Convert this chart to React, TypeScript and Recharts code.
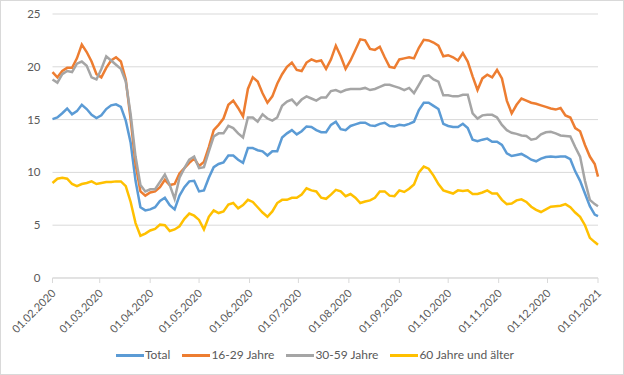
import { LineChart, Line, XAxis, YAxis, CartesianGrid, Legend } from "recharts";

// day index since 01.02.2020, sampled every 3 days
const days = [
  0, 3, 6, 9, 12, 15, 18, 21, 24, 27,
  30, 33, 36, 39, 42, 45, 48, 51, 54, 57,
  60, 63, 66, 69, 72, 75, 78, 81, 84, 87,
  90, 93, 96, 99, 102, 105, 108, 111, 114, 117,
  120, 123, 126, 129, 132, 135, 138, 141, 144, 147,
  150, 153, 156, 159, 162, 165, 168, 171, 174, 177,
  180, 183, 186, 189, 192, 195, 198, 201, 204, 207,
  210, 213, 216, 219, 222, 225, 228, 231, 234, 237,
  240, 243, 246, 249, 252, 255, 258, 261, 264, 267,
  270, 273, 276, 279, 282, 285, 288, 291, 294, 297,
  300, 303, 306, 309, 312, 315, 318, 321, 324, 327,
  330, 333, 335,
];

const total = [
  15.05, 15.2, 15.6, 16.05, 15.5, 15.8, 16.4, 16.0, 15.45, 15.15,
  15.4, 16.0, 16.35, 16.45, 16.2, 14.9, 12.8, 9.2, 6.7, 6.4,
  6.5, 6.7, 7.3, 7.6, 6.9, 6.5, 7.8, 8.6, 9.15, 9.2,
  8.2, 8.3, 9.5, 10.5, 10.8, 10.95, 11.6, 11.6, 11.2, 10.9,
  12.3, 12.3, 12.1, 12.0, 11.6, 12.0, 12.0, 13.3, 13.7, 14.0,
  13.6, 13.9, 14.35, 14.3, 14.0, 13.8, 13.8, 14.5, 14.8, 14.1,
  14.0, 14.4, 14.55, 14.7, 14.7, 14.45, 14.4, 14.6, 14.7, 14.4,
  14.35, 14.5, 14.45, 14.6, 14.8, 15.9, 16.6, 16.6, 16.3, 16.0,
  14.6, 14.4, 14.3, 14.3, 14.6, 14.2, 13.1, 12.95, 13.1, 13.2,
  12.9, 12.9, 12.6, 11.8, 11.55, 11.65, 11.75, 11.5, 11.2, 11.05,
  11.3, 11.45, 11.5, 11.45, 11.5, 11.5, 11.25, 10.1, 9.2, 8.0,
  6.8, 6.0, 5.85,
];

const age16to29 = [
  19.5, 19.0, 19.6, 19.9, 19.9, 20.8, 22.1, 21.4, 20.5, 19.3,
  19.0, 19.9, 20.6, 20.9, 20.5, 18.8, 15.0, 10.8, 8.2, 7.8,
  8.1, 8.2, 8.6, 9.3, 8.8, 8.9, 9.9, 10.4, 10.9, 11.3,
  10.6, 11.0, 12.4, 14.0, 14.5, 15.1, 16.4, 16.8, 16.1, 15.3,
  17.9, 19.0, 18.6, 17.5, 16.6, 17.2, 18.4, 19.3, 20.0, 20.4,
  19.7, 19.6, 20.4, 20.7, 20.5, 20.6, 19.8, 20.7, 22.0, 21.0,
  19.8, 20.6, 21.6, 22.6, 22.5, 21.7, 21.6, 21.9, 20.9, 20.0,
  19.9, 20.7, 20.8, 20.9, 20.8, 21.8, 22.55, 22.5, 22.3, 22.0,
  21.0, 21.1, 20.9, 20.6, 21.3, 20.5, 19.1, 17.8, 18.9, 19.25,
  19.0, 19.7, 18.9, 16.8, 15.6, 16.4, 17.0, 16.8, 16.6, 16.5,
  16.35, 16.2, 16.05, 15.95, 16.1, 15.4, 15.2, 14.2, 13.9, 12.6,
  11.5, 10.8, 9.6,
];

const age30to59 = [
  18.8, 18.5, 19.3, 19.6, 19.5, 20.3, 20.5, 20.1, 19.0, 18.8,
  19.8, 21.0, 20.6, 20.2, 19.8, 18.6, 15.5, 11.5, 8.8, 8.2,
  8.4, 8.4, 9.1, 9.8, 8.8, 7.5, 9.5, 10.4, 11.2, 11.5,
  10.4, 10.5, 12.0, 13.4, 13.7, 13.7, 14.4, 14.2, 13.7, 13.3,
  15.2, 15.2, 14.8, 15.5, 15.1, 14.9, 15.2, 16.3, 16.7, 16.9,
  16.4, 16.9, 17.2, 17.0, 16.8, 17.1, 17.1, 17.7, 17.8, 17.6,
  17.8, 17.9, 17.9, 17.9, 18.0, 17.8, 17.9, 18.1, 18.3, 18.3,
  18.15, 18.0, 17.8, 18.0, 17.5, 18.3, 19.1, 19.2, 18.8, 18.6,
  17.3, 17.3, 17.2, 17.2, 17.35, 17.35, 15.6, 15.1, 15.4, 15.45,
  15.45, 15.2, 14.5, 14.0, 13.75, 13.65, 13.5, 13.45, 13.1, 13.2,
  13.6, 13.8, 13.85, 13.7, 13.5, 13.45, 13.4, 12.4, 11.5, 9.2,
  7.4, 7.0, 6.8,
];

const age60plus = [
  9.0, 9.4, 9.5, 9.4, 8.9, 8.7, 8.9, 9.0, 9.15, 8.9,
  9.0, 9.1, 9.1, 9.15, 9.15, 8.7, 7.2, 5.2, 4.0, 4.2,
  4.5, 4.65, 5.05, 5.0, 4.45, 4.6, 4.9, 5.6, 6.1, 5.9,
  5.5, 4.6, 5.8, 6.4, 6.15, 6.3, 6.95, 7.1, 6.6, 6.9,
  7.4, 7.2, 6.7, 6.2, 5.8, 6.3, 7.1, 7.4, 7.4, 7.6,
  7.6, 7.9, 8.5, 8.3, 8.2, 7.6, 7.5, 7.9, 8.35, 8.2,
  7.75, 7.95, 7.6, 7.1, 7.25, 7.35, 7.6, 8.2, 8.2, 7.8,
  7.75, 8.3, 8.15, 8.45, 8.85, 10.0, 10.55, 10.35, 9.7, 8.9,
  8.3, 8.15, 8.0, 8.3, 8.25, 8.3, 7.95, 7.95, 8.1, 8.3,
  8.0, 8.0, 7.4, 7.0, 7.05, 7.35, 7.45, 7.2, 6.75, 6.45,
  6.25, 6.5, 6.75, 6.8, 6.85, 7.0, 6.7, 6.2, 5.8, 5.0,
  3.8, 3.4, 3.15,
];

const monthTicks = [0, 29, 60, 90, 121, 151, 182, 213, 243, 274, 304, 335];
const monthLabels = [
  "01.02.2020", "01.03.2020", "01.04.2020", "01.05.2020", "01.06.2020", "01.07.2020",
  "01.08.2020", "01.09.2020", "01.10.2020", "01.11.2020", "01.12.2020", "01.01.2021",
];
const yTicks = [0, 5, 10, 15, 20, 25];

const seriesKeys = ["total", "age16to29", "age30to59", "age60plus"];
const seriesNames = ["Total", "16-29 Jahre", "30-59 Jahre", "60 Jahre und älter"];
const colors = ["#5B9BD5", "#ED7D31", "#A5A5A5", "#FFC000"];

const data = days.map((d, i) => ({
  day: d,
  total: total[i],
  age16to29: age16to29[i],
  age30to59: age30to59[i],
  age60plus: age60plus[i],
}));

const FONT = "Lato, 'Open Sans', sans-serif";
const TEXT = "#595959";
const GRID = "#D9D9D9";

function MonthTick({ x, y, payload }: any) {
  const i = monthTicks.indexOf(payload.value);
  const tx = x + 4;
  const ty = y + 9;
  return (
    <text
      x={tx}
      y={ty}
      transform={`rotate(-45 ${tx} ${ty})`}
      textAnchor="end"
      fontSize={11}
      fontFamily={FONT}
      fill={TEXT}
    >
      {monthLabels[i]}
    </text>
  );
}

function LegendRow() {
  return (
    <div
      style={{
        display: "flex",
        justifyContent: "center",
        gap: 12,
        paddingLeft: 6,
        fontFamily: FONT,
        fontSize: 12,
        color: TEXT,
        lineHeight: "24px",
      }}
    >
      {seriesNames.map((name, i) => (
        <div key={name} style={{ display: "flex", alignItems: "center" }}>
          <span
            style={{
              display: "inline-block",
              width: 28,
              height: 3,
              background: colors[i],
              marginRight: 1,
            }}
          />
          {name}
        </div>
      ))}
    </div>
  );
}

export default function App() {
  return (
    <div
      style={{
        position: "absolute",
        left: 0,
        top: 0,
        width: 624,
        height: 375,
        background: "#fff",
        boxShadow: `inset 0 0 0 1px ${GRID}`,
      }}
    >
      <LineChart
        width={624}
        height={375}
        data={data}
        margin={{ top: 14, right: 26, left: 0, bottom: 8 }}
      >
        <CartesianGrid vertical={false} stroke={GRID} strokeWidth={1} />
        <XAxis
          dataKey="day"
          type="number"
          domain={[0, 335]}
          ticks={monthTicks}
          interval={0}
          height={65}
          stroke={GRID}
          tickSize={5}
          tickMargin={2}
          tick={<MonthTick />}
        />
        <YAxis
          domain={[0, 25]}
          ticks={yTicks}
          width={52.5}
          axisLine={false}
          tickLine={false}
          tickSize={0}
          tickMargin={12}
          tick={{ fontSize: 11.5, fontFamily: FONT, fill: TEXT }}
        />
        <Legend
          verticalAlign="bottom"
          height={24}
          wrapperStyle={{ left: 0, width: 624 }}
          content={<LegendRow />}
        />
        {seriesKeys.map((k, i) => (
          <Line
            key={k}
            type="linear"
            dataKey={k}
            name={seriesNames[i]}
            stroke={colors[i]}
            strokeWidth={2.5}
            dot={false}
            isAnimationActive={false}
          />
        ))}
      </LineChart>
    </div>
  );
}
